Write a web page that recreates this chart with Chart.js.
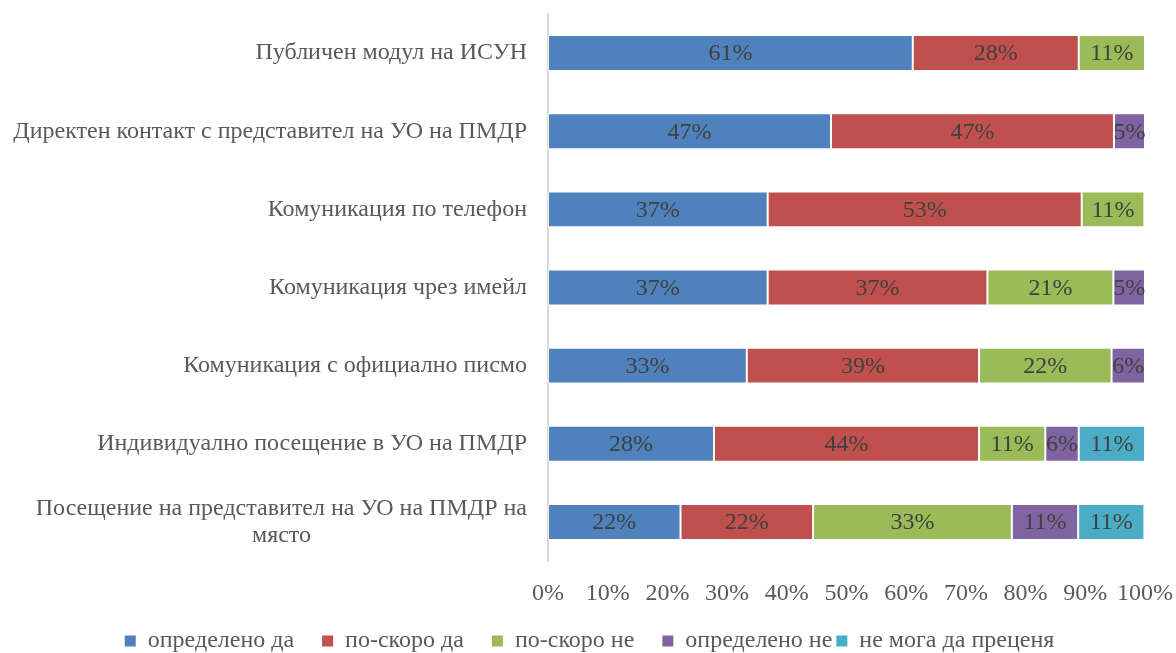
<!DOCTYPE html>
<html>
<head>
<meta charset="utf-8">
<script src="https://cdn.jsdelivr.net/npm/chart.js@4/dist/chart.umd.min.js"></script>
<style>
html,body{margin:0;padding:0;background:#fff;}
#wrap{width:1176px;height:653px;position:relative;}
</style>
</head>
<body>
<div id="wrap"><canvas id="c" width="1176" height="653"></canvas></div>
<script>
const categories = [
  'Публичен модул на ИСУН',
  'Директен контакт с представител на УО на ПМДР',
  'Комуникация по телефон',
  'Комуникация чрез имейл',
  'Комуникация с официално писмо',
  'Индивидуално посещение в УО на ПМДР',
  ['Посещение на представител на УО на ПМДР на', 'място']
];
const seriesNames = ['определено да', 'по-скоро да', 'по-скоро не', 'определено не', 'не мога да преценя'];
const definitelyYes = [61.1, 47.4, 36.8, 36.8, 33.3, 27.8, 22.2];
const ratherYes     = [27.8, 47.4, 52.6, 36.8, 38.9, 44.4, 22.2];
const ratherNo      = [11.1, null, 10.5, 21.1, 22.2, 11.1, 33.3];
const definitelyNo  = [null, 5.2, null, 5.3, 5.6, 5.6, 11.1];
const cannotJudge   = [null, null, null, null, null, 11.1, 11.1];
const xTicks = [0, 10, 20, 30, 40, 50, 60, 70, 80, 90, 100];

const colors = ['#4F81BD', '#C0504D', '#9BBB59', '#8064A2', '#4BACC6'];
const seriesValues = [definitelyYes, ratherYes, ratherNo, definitelyNo, cannotJudge];
const FONT = "'Liberation Serif', 'Times New Roman', serif";
const FS = 24;
const legendGaps = [4, 4, 4, 0, 0];

// centre the second line of the wrapped label under the first
const labels = categories.map(c => Array.isArray(c) ? [c[0], c[1] + '\u00a0'.repeat(36)] : c);

const dataLabelPlugin = {
  id: 'dataLabels',
  afterLayout(chart) {
    if (chart.legend) { chart.legend.left += 17; chart.legend.right += 17; }
  },
  afterDatasetsDraw(chart) {
    const ctx = chart.ctx;
    ctx.save();
    ctx.font = FS + 'px ' + FONT;
    ctx.fillStyle = '#404040';
    ctx.textAlign = 'center';
    ctx.textBaseline = 'middle';
    chart.data.datasets.forEach((ds, di) => {
      const meta = chart.getDatasetMeta(di);
      meta.data.forEach((el, i) => {
        const v = ds.data[i];
        if (v === null || v === undefined) return;
        const x = (el.x + el.base) / 2;
        ctx.fillText(Math.round(v) + '%', x, el.y + 1);
      });
    });
    ctx.restore();
  }
};

new Chart(document.getElementById('c'), {
  type: 'bar',
  data: {
    labels: labels,
    datasets: seriesNames.map((n, i) => ({
      label: n,
      data: seriesValues[i],
      backgroundColor: colors[i],
      borderColor: 'rgba(255,255,255,0.7)',
      borderWidth: 1,
      borderSkipped: false,
      categoryPercentage: 1,
      barPercentage: 0.46
    }))
  },
  options: {
    indexAxis: 'y',
    responsive: false,
    animation: false,
    devicePixelRatio: 1,
    layout: { padding: { left: 0, right: 31, top: 14, bottom: -10 } },
    scales: {
      x: {
        stacked: true,
        min: 0,
        max: 100,
        afterBuildTicks(scale) { scale.ticks = xTicks.map(v => ({ value: v })); },
        afterFit(scale) { scale.height = 64; scale.paddingLeft = 0; scale.paddingRight = 0; },
        grid: { display: false, drawTicks: false },
        border: { display: false },
        ticks: {
          padding: 18,
          color: '#595959',
          font: { family: FONT, size: FS },
          maxRotation: 0,
          autoSkip: false,
          callback: v => v + '%'
        }
      },
      y: {
        stacked: true,
        afterFit(scale) { scale.width = 548; scale.paddingTop = 0; scale.paddingBottom = 0; },
        grid: { display: true, color: 'rgba(0,0,0,0)', drawTicks: false },
        border: { display: true, color: '#D9D9D9', width: 2 },
        ticks: {
          padding: 21,
          color: '#595959',
          autoSkip: false,
          font: { family: FONT, size: FS, lineHeight: 1.125 }
        }
      }
    },
    plugins: {
      legend: {
        position: 'bottom',
        labels: {
          boxWidth: 11,
          boxHeight: 11,
          padding: 4,
          color: '#595959',
          font: { family: FONT, size: FS },
          generateLabels(chart) {
            const items = Chart.defaults.plugins.legend.labels.generateLabels(chart);
            items.forEach((it, i) => {
              it.lineWidth = 0;
              it.text = it.text + '\u00a0'.repeat(legendGaps[i]);
            });
            return items;
          }
        }
      },
      tooltip: { enabled: false }
    }
  },
  plugins: [dataLabelPlugin]
});
</script>
</body>
</html>
